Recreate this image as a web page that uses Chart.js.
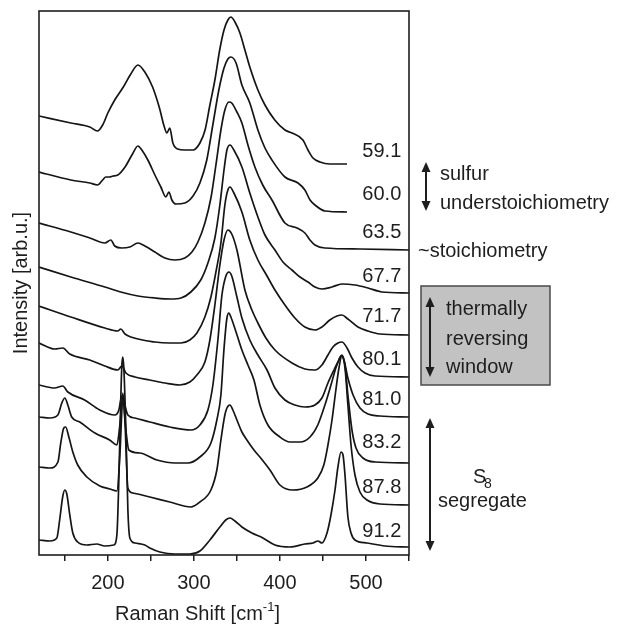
<!DOCTYPE html>
<html><head><meta charset="utf-8">
<script src="https://cdn.jsdelivr.net/npm/chart.js@4.4.1/dist/chart.umd.min.js"></script>
<style>html,body{margin:0;padding:0;background:#fff}canvas{display:block}</style>
</head><body>
<canvas id="c" width="621" height="624"></canvas>
<script>
// Raman shift [cm-1], intensity [arb.u., spectra stacked with offsets]
const compositions = ['59.1','60.0','63.5','67.7','71.7','80.1','81.0','83.2','87.8','91.2'];

const s59_1 = [[120,439],[157,432],[179,428],[188,424],[194,430],[200,442],[208,455],[218,468],[226,480],[235,490],[243,483],[252,468],[260,447],[265,430],[268.6,422],[272,427],[275.6,412],[281,406],[289.5,405],[299,405],[307,412],[313,425],[318.6,450],[324.4,475],[330,505],[335,525],[339.5,535],[343,538],[347.7,533],[353.5,522],[359.3,505],[365,488],[374.4,465],[382.6,450],[394,435],[405.8,425],[414,422],[426.7,415],[432.6,405],[438.4,397],[446.5,393],[458,391],[478,391]];
const s60_0 = [[120,383],[157,375],[179,372],[188,370],[194,375],[197.7,378],[202,378],[206,379],[211.6,380],[220,388],[228,400],[235,409],[239.5,405],[246.5,395],[254.7,380],[261.6,368],[267.4,358],[271,363],[274.4,355],[279,351],[289.5,352],[299,359],[307,372],[315,395],[322,430],[329,465],[335,487],[339.5,496],[343,498],[349,492],[355.8,470],[365,452],[374.4,425],[382.6,407],[390.7,395],[405.8,378],[421,372],[429,365],[435,355],[440.7,350],[452.3,344],[478,343]];
const s63_5 = [[120,332],[157,323],[179,317],[196.5,312],[203.5,315],[208,309],[216,307],[225.6,308],[235,312],[243,309],[254.7,303],[266.3,297],[278,295],[289.5,297],[297.7,303],[304.7,313],[312.8,332],[319.8,357],[325.6,390],[331.4,425],[336,445],[340.7,453],[344,452],[350,443],[355.8,432],[362.8,410],[370.9,388],[380,370],[390.7,355],[405.8,332],[419.8,327],[429,322],[434.9,315],[440.7,310],[452.3,307],[493,306],[550,305]];
const s67_7 = [[120,288],[157,278],[196.5,268],[215,263],[235,259],[254.7,257],[273.3,256],[285,257],[296.5,263],[308,275],[316.3,292],[324.4,317],[330.2,350],[335,385],[338.4,405],[342,410],[346.5,405],[355.8,388],[365,362],[374.4,338],[382.6,320],[394.2,305],[403.5,293],[414,285],[423.3,278],[432.6,273],[440.7,268],[448.8,266],[460.5,268],[472,271],[487.2,270],[502.3,267],[518.6,263],[550,262]];
const s71_7 = [[120,249],[157,238],[196.5,227],[211.6,224],[215,226],[220,221],[226.7,218],[254.7,213],[272,212],[285,212],[295.3,215],[303.5,222],[312.8,238],[319.8,258],[325.6,283],[331.4,312],[336,350],[339.5,365],[342,368],[346.5,362],[355.8,343],[365,315],[374.4,295],[385,279],[394.2,265],[405.8,250],[417.4,237],[429,228],[440.7,225],[448.8,228],[458,235],[466.3,239],[472,240],[479,236],[490.7,228],[502.3,224],[516.3,221],[550,220]];
const s80_1 = [[120,212],[138.4,206],[147.7,207],[155.8,201],[179,195],[196.5,189],[211.6,185],[216.3,189],[221,182],[231.4,178],[248.8,175],[266.3,172],[283.7,170],[295.3,173],[303.5,180],[312.8,193],[318.6,215],[324.4,250],[330.2,290],[335,315],[339.5,325],[344,321],[350,305],[359.3,265],[367.4,245],[374.4,232],[383.7,217],[394.2,205],[414,192],[429,186],[440.7,185],[448.8,190],[455.8,200],[461.6,208],[467.4,212],[472,213],[478,207],[483.7,197],[490.7,188],[498.8,182],[510.5,179],[550,178]];
const s81_0 = [[120,170],[138,167],[147.7,169],[153.5,163],[173,155],[190.7,145],[208,140],[212.8,145],[215,155],[217.4,160],[219.8,150],[223.3,140],[231.4,137],[248.8,133],[272,128],[296.5,125],[307,130],[316.3,145],[322.1,170],[327.9,215],[332.6,260],[337.2,279],[340.7,283],[344,279],[350,258],[355.8,237],[365,215],[374.4,200],[385,185],[394.2,167],[405.8,155],[417.4,150],[429,148],[440.7,150],[448.8,157],[455.8,172],[462.8,185],[467.4,193],[471,199],[474.4,195],[479,177],[485,160],[493,147],[502.3,141],[516.3,139],[550,138]];
const s83_2 = [[120,138],[132.6,137],[141.9,140],[146.5,152],[150,157],[153.5,150],[158,138],[167.4,133],[185,122],[202,115],[210.5,110],[214,130],[217.4,157],[221,125],[224.4,105],[237,102],[257,95],[278,92],[293,92],[307,98],[319.8,112],[326.7,135],[331.4,160],[334.9,205],[338.4,237],[340.7,242],[343,238],[349,223],[355.8,205],[362.8,190],[369.8,175],[376.7,150],[386,130],[400,118],[411.6,113],[423.3,113],[435,118],[444,130],[452.3,150],[459.3,170],[465,187],[468.6,195],[472,200],[475.6,190],[479,160],[483.7,125],[488.4,107],[496.5,97],[510.5,93],[550,92]];
const s87_8 = [[120,88],[132.6,87],[142,93],[145.3,112],[148.8,127],[151,128],[154.7,118],[159.3,103],[165,90],[175.6,78],[190.7,69],[202.3,66],[210.5,64],[214,100],[216.3,145],[217.4,162],[219.8,135],[223.3,67],[229,62],[248.8,58],[272,53],[296.5,48],[307,53],[319.8,65],[326.7,85],[331.4,115],[336,140],[338.4,147],[341.9,150],[345.3,145],[350,135],[355.8,123],[361.6,115],[369.8,105],[376.7,98],[388.4,85],[400,70],[415,65],[431.4,68],[444,77],[451,90],[455.8,110],[460.5,135],[465,165],[468.6,187],[472,199],[475.6,187],[479,150],[482.6,110],[487.2,80],[493,63],[501.2,55],[516.3,51],[550,50]];
const s91_2 = [[120,15],[132.6,14],[140.7,17],[144,35],[147.7,59],[150,65],[152.3,61],[155.8,40],[159.3,22],[165,13],[175.6,10],[187,11],[196.5,9],[207,10],[210.5,20],[212.8,75],[215,155],[216.3,190],[217.4,198],[218.6,187],[221,125],[223.3,45],[225.6,17],[231.4,12],[243,10],[248.8,7],[260.5,3],[278,1],[295.3,1],[307,4],[318.6,15],[330.2,28],[337,35],[342,37],[347.7,34],[355.8,28],[367.4,22],[380.2,17],[394.2,10],[411.6,8],[429,11],[438.4,12],[444.2,14],[448.8,12],[454.7,22],[459.3,40],[464,65],[467.4,88],[471,103],[473.3,100],[475.6,80],[479,38],[482.6,22],[487.2,15],[501.2,12],[522,9],[550,8]];

const spectra = [s59_1, s60_0, s63_5, s67_7, s71_7, s80_1, s81_0, s83_2, s87_8, s91_2];
const xTickValues = [150,200,250,300,350,400,450,500,550];
const xTickLabels = ['','200','','300','','400','','500',''];

const FONT = 'Arial, "Liberation Sans", Arimo, sans-serif';
const INK = '#1e1e1e';

const annotate = {
  id: 'annotate',
  afterDraw(chart) {
    const {ctx, chartArea: a, scales} = chart;
    const xs = scales.x, ys = scales.y;
    ctx.save();
    // frame
    ctx.strokeStyle = INK; ctx.lineWidth = 1.6;
    ctx.strokeRect(a.left, a.top, a.right - a.left, a.bottom - a.top);
    // composition labels next to each trace
    const raise = [7,12,12,11,13,12,12,15,12,10];
    ctx.fillStyle = INK; ctx.font = '20px ' + FONT;
    ctx.textAlign = 'right'; ctx.textBaseline = 'alphabetic';
    spectra.forEach((s, i) => {
      const last = s[s.length - 1];
      ctx.fillText(compositions[i], xs.getPixelForValue(541), ys.getPixelForValue(last[1]) - raise[i]);
    });
    // x-axis title with superscript
    ctx.textAlign = 'left';
    let tx = 115;
    const main = 'Raman Shift [cm';
    ctx.fillText(main, tx, 620); tx += ctx.measureText(main).width;
    ctx.font = '13px ' + FONT;
    ctx.fillText('-1', tx, 611); tx += ctx.measureText('-1').width;
    ctx.font = '20px ' + FONT;
    ctx.fillText(']', tx, 620);
    // right-hand annotations
    const arrow = (x, y1, y2) => {
      ctx.strokeStyle = INK; ctx.fillStyle = INK; ctx.lineWidth = 2;
      ctx.beginPath(); ctx.moveTo(x, y1 + 8); ctx.lineTo(x, y2 - 8); ctx.stroke();
      ctx.beginPath(); ctx.moveTo(x, y1); ctx.lineTo(x - 4.5, y1 + 10); ctx.lineTo(x + 4.5, y1 + 10); ctx.closePath(); ctx.fill();
      ctx.beginPath(); ctx.moveTo(x, y2); ctx.lineTo(x - 4.5, y2 - 10); ctx.lineTo(x + 4.5, y2 - 10); ctx.closePath(); ctx.fill();
    };
    arrow(426, 162, 211);
    ctx.fillStyle = INK; ctx.font = '20px ' + FONT;
    ctx.fillText('sulfur', 440, 180);
    ctx.fillText('understoichiometry', 440, 209);
    ctx.fillText('~stoichiometry', 418, 257);
    ctx.fillStyle = '#c2c2c2'; ctx.fillRect(421, 286, 129, 99);
    ctx.strokeStyle = '#4a4a4a'; ctx.lineWidth = 1.5; ctx.strokeRect(421, 286, 129, 99);
    arrow(430, 297, 377);
    ctx.fillStyle = INK;
    ctx.fillText('thermally', 446, 315);
    ctx.fillText('reversing', 446, 345);
    ctx.fillText('window', 446, 373);
    arrow(430, 418, 551);
    ctx.fillStyle = INK;
    ctx.fillText('S', 473, 483);
    ctx.font = '14px ' + FONT;
    ctx.fillText('8', 484, 488);
    ctx.font = '20px ' + FONT;
    ctx.fillText('segregate', 438, 507);
    ctx.restore();
  }
};

new Chart(document.getElementById('c'), {
  type: 'line',
  data: {
    datasets: spectra.map((s, i) => ({
      label: compositions[i],
      data: s.map(p => ({x: p[0], y: p[1]})),
      borderColor: '#151515',
      borderWidth: 1.7,
      pointRadius: 0,
      fill: false,
      cubicInterpolationMode: 'monotone'
    }))
  },
  options: {
    responsive: false,
    animation: false,
    devicePixelRatio: 1,
    layout: {padding: {top: 11, right: 212, left: 0, bottom: 0}},
    plugins: {legend: {display: false}, tooltip: {enabled: false}},
    scales: {
      x: {
        type: 'linear', min: 120, max: 550,
        afterBuildTicks: (sc) => { sc.ticks = xTickValues.map(v => ({value: v})); },
        afterFit: (sc) => { sc.height = 69; },
        ticks: {
          autoSkip: false, maxRotation: 0, padding: 10, color: INK,
          font: {size: 20, family: FONT},
          callback: (v) => { const k = xTickValues.indexOf(v); return k >= 0 ? xTickLabels[k] : ''; }
        },
        grid: {display: true, drawOnChartArea: false, drawTicks: true, tickLength: 6, color: INK, lineWidth: 1.5},
        border: {display: false}
      },
      y: {
        type: 'linear', min: 0, max: 544,
        afterFit: (sc) => { sc.width = 39; },
        ticks: {display: false},
        grid: {display: false},
        border: {display: false},
        title: {display: true, text: 'Intensity [arb.u.]', color: INK,
                font: {size: 20, family: FONT}, padding: {top: 9, bottom: 0}}
      }
    }
  },
  plugins: [annotate]
});
</script>
</body></html>
